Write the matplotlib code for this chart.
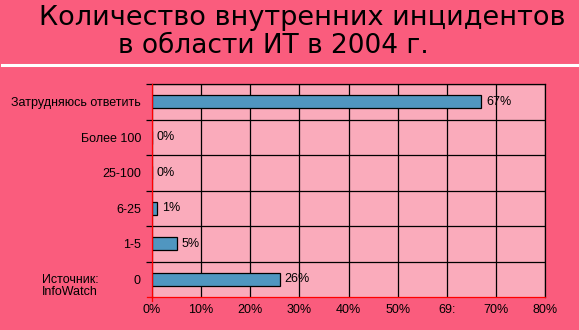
import matplotlib.pyplot as plt
from matplotlib.lines import Line2D
import numpy as np

# данные
categories = ['Затрудняюсь ответить', 'Более 100', '25-100', '6-25', '1-5', '0']
values = [67, 0, 0, 1, 5, 26]
xtick_vals = [0, 10, 20, 30, 40, 50, 60, 70, 80]
xtick_labels = ['0%', '10%', '20%', '30%', '40%', '50%', '69:', '70%', '80%']

bg = '#FA5C7D'
plot_bg = '#FAABBB'
bar_color = '#5096C0'

plt.rcParams['font.family'] = ['Liberation Sans', 'DejaVu Sans']

fig = plt.figure(figsize=(5.79, 3.30), dpi=100, facecolor=bg)
ax = fig.add_axes([152 / 579, 33 / 330, 393 / 579, 213 / 330])
ax.set_facecolor(plot_bg)

y = np.arange(len(categories))
ax.barh(y, values, height=0.37, color=bar_color, edgecolor='black', linewidth=0.9, zorder=3)

for yi, v in zip(y, values):
    ax.text(v + 1.0, yi, f'{v}%', va='center', ha='left', fontsize=9, zorder=4)

ax.set_xlim(0, 80)
ax.set_ylim(len(categories) - 0.5, -0.5)

ax.set_xticks(xtick_vals)
ax.set_xticklabels(xtick_labels, fontsize=9)
ax.set_yticks(y)
ax.set_yticklabels(categories, fontsize=9)
ax.tick_params(axis='x', which='major', length=0, pad=5)
ax.tick_params(axis='y', which='major', length=0, pad=8)

# границы категорий
ax.set_yticks(np.arange(len(categories)) - 0.5, minor=True)
ax.tick_params(axis='y', which='minor', length=4, width=0.9)
for t in ax.yaxis.get_minor_ticks():
    t.tick1line.set_color('black')
    t.tick1line.set_markeredgecolor('black')
ax.grid(axis='y', which='minor', color='black', linewidth=0.9, zorder=1)
ax.grid(axis='x', which='major', color='black', linewidth=0.9, zorder=1)

for s in ['top', 'right']:
    ax.spines[s].set_color('black')
    ax.spines[s].set_linewidth(0.9)
for s in ['left', 'bottom']:
    ax.spines[s].set_color('red')
    ax.spines[s].set_linewidth(0.9)
    ax.spines[s].set_zorder(5)

# маленькие красные засечки в углу
ax.add_line(Line2D([0, 0], [0, -0.02], transform=ax.transAxes, color='red', lw=0.9, clip_on=False))
ax.add_line(Line2D([0, -0.013], [0, 0], transform=ax.transAxes, color='red', lw=0.9, clip_on=False))

fig.text(42 / 579, 1 - 286 / 330, 'Источник:\nInfoWatch', fontsize=9, ha='left', va='center', linespacing=1.0)

# заголовок
fig.text(302 / 579, 1 - 18 / 330, 'Количество внутренних инцидентов', fontsize=19.5,
         ha='center', va='center', family=['DejaVu Sans'])
fig.text(273 / 579, 1 - 46 / 330, 'в области ИТ в 2004 г.', fontsize=19,
         ha='center', va='center', family=['DejaVu Sans'])
fig.add_artist(Line2D([2 / 579, 1], [1 - 65 / 330, 1 - 65 / 330], color='white', lw=2.2))

fig.savefig('out.png', dpi=100, facecolor=bg)
